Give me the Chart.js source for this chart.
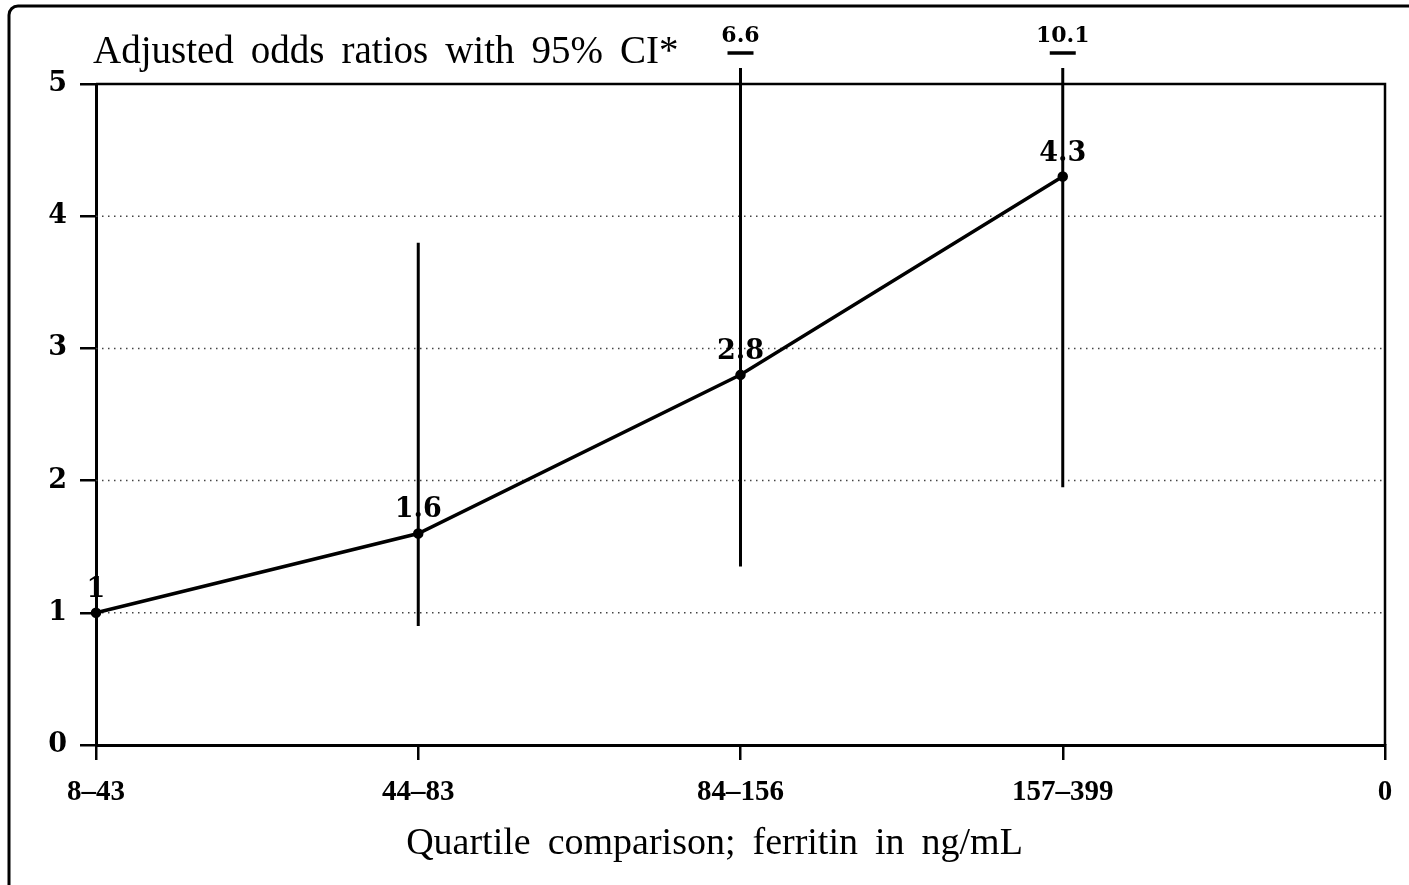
<!DOCTYPE html>
<html><head><meta charset="utf-8">
<script src="https://cdn.jsdelivr.net/npm/chart.js@4.4.1/dist/chart.umd.min.js"></script>
<style>html,body{margin:0;padding:0;background:#fff;overflow:hidden}#wrap{position:relative;width:1409px;height:885px}</style>
</head><body><div id="wrap"><canvas id="c" width="1409" height="885"></canvas></div>
<script>
const categories = ['8–43', '44–83', '84–156', '157–399', '0'];
const oddsRatios = [1, 1.6, 2.8, 4.3];
const ciLower = [null, 0.9, 1.35, 1.95];
const ciUpper = [null, 3.8, 6.6, 10.1];
const yTicks = [0, 1, 2, 3, 4, 5];
const pointLabels = ['1', '1.6', '2.8', '4.3'];
const titleText = 'Adjusted odds ratios with 95% CI*';
const xTitleText = 'Quartile comparison; ferritin in ng/mL';

function drawWords(ctx, text, x, y, gap, align) {
  const words = text.split(' ');
  const widths = words.map(w => ctx.measureText(w).width);
  const total = widths.reduce((a, b) => a + b, 0) + gap * (words.length - 1);
  let cx = align === 'center' ? x - total / 2 : x;
  ctx.textAlign = 'left';
  words.forEach((w, i) => { ctx.fillText(w, cx, y); cx += widths[i] + gap; });
}

const deco = {
  id: 'deco',
  beforeDatasetsDraw(chart) {
    const ctx = chart.ctx, a = chart.chartArea;
    const xs = chart.scales.x, ys = chart.scales.y;
    ctx.save();
    // dotted gridlines
    ctx.strokeStyle = '#444';
    ctx.lineWidth = 1.5;
    ctx.setLineDash([1.5, 4.5]);
    yTicks.forEach(v => {
      if (v === ys.min || v === ys.max) return;
      const y = ys.getPixelForValue(v);
      ctx.beginPath(); ctx.moveTo(a.left, y); ctx.lineTo(a.right, y); ctx.stroke();
    });
    ctx.setLineDash([]);
    // top and right frame
    ctx.strokeStyle = '#000';
    ctx.lineWidth = 2.5;
    ctx.beginPath();
    ctx.moveTo(a.left, a.top); ctx.lineTo(a.right, a.top); ctx.lineTo(a.right, a.bottom);
    ctx.stroke();
    // confidence intervals
    ciLower.forEach((lo, i) => {
      if (lo === null) return;
      const hi = ciUpper[i];
      const x = xs.getPixelForValue(i);
      const yLo = ys.getPixelForValue(lo);
      const off = hi > ys.max;
      const yHi = off ? a.top - 16 : ys.getPixelForValue(hi);
      ctx.lineWidth = 3;
      ctx.beginPath(); ctx.moveTo(x, yLo); ctx.lineTo(x, yHi); ctx.stroke();
      if (off) {
        ctx.lineWidth = 3.5;
        ctx.beginPath(); ctx.moveTo(x - 13, a.top - 31); ctx.lineTo(x + 13, a.top - 31); ctx.stroke();
        ctx.fillStyle = '#000';
        ctx.font = 'bold 22px "DejaVu Serif"';
        ctx.textAlign = 'center';
        ctx.textBaseline = 'alphabetic';
        ctx.fillText(hi.toFixed(1), x, a.top - 42);
      }
    });
    ctx.restore();
  },
  afterDatasetsDraw(chart) {
    const ctx = chart.ctx;
    const xs = chart.scales.x, ys = chart.scales.y;
    ctx.save();
    ctx.fillStyle = '#000';
    ctx.font = 'bold 27px "DejaVu Serif"';
    ctx.textAlign = 'center';
    ctx.textBaseline = 'alphabetic';
    oddsRatios.forEach((v, i) => {
      ctx.fillText(pointLabels[i], xs.getPixelForValue(i), ys.getPixelForValue(v) - 16);
    });
    ctx.restore();
  },
  afterDraw(chart) {
    const ctx = chart.ctx, a = chart.chartArea;
    ctx.save();
    ctx.fillStyle = '#000';
    ctx.textBaseline = 'alphabetic';
    ctx.font = '39px "Liberation Serif"';
    drawWords(ctx, titleText, 93, 63, 17, 'left');
    ctx.font = '38px "Liberation Serif"';
    drawWords(ctx, xTitleText, (a.left + a.right) / 2 - 26, 854, 17, 'center');
    // outer frame
    ctx.strokeStyle = '#000';
    ctx.lineWidth = 3;
    ctx.beginPath();
    ctx.moveTo(9, 885); ctx.lineTo(9, 15); ctx.arcTo(9, 6, 18, 6, 9); ctx.lineTo(1409, 6);
    ctx.stroke();
    ctx.restore();
  }
};

new Chart(document.getElementById('c'), {
  type: 'line',
  data: {
    datasets: [{
      data: oddsRatios.map((v, i) => ({ x: i, y: v })),
      borderColor: '#000',
      borderWidth: 3.5,
      pointRadius: 3.5,
      pointBackgroundColor: '#000',
      pointBorderColor: '#000',
      tension: 0,
      clip: false
    }]
  },
  options: {
    responsive: false,
    animation: false,
    layout: { padding: { top: 84, right: 24, left: 0, bottom: 0 } },
    plugins: { legend: { display: false }, tooltip: { enabled: false }, title: { display: false } },
    scales: {
      x: {
        type: 'linear', min: 0, max: categories.length - 1,
        afterBuildTicks: s => { s.ticks = categories.map((_, i) => ({ value: i })); },
        afterFit: s => { s.height = 140; },
        ticks: {
          callback: v => categories[v],
          autoSkip: false, maxRotation: 0, padding: 15,
          color: '#000', font: { family: '"Liberation Serif"', weight: 'bold', size: 29 }
        },
        grid: { drawOnChartArea: false, drawTicks: true, tickLength: 15, color: '#000', lineWidth: 2.5 },
        border: { color: '#000', width: 3 }
      },
      y: {
        type: 'linear', min: 0, max: 5,
        afterBuildTicks: s => { s.ticks = yTicks.map(v => ({ value: v })); },
        afterFit: s => { s.width = 96; },
        ticks: {
          color: '#000', padding: 13,
          font: { family: '"DejaVu Serif"', weight: 'bold', size: 27 }
        },
        grid: { drawOnChartArea: false, drawTicks: true, tickLength: 16, color: '#000', lineWidth: 2.5 },
        border: { color: '#000', width: 3 }
      }
    }
  },
  plugins: [deco]
});
</script>
</body></html>
